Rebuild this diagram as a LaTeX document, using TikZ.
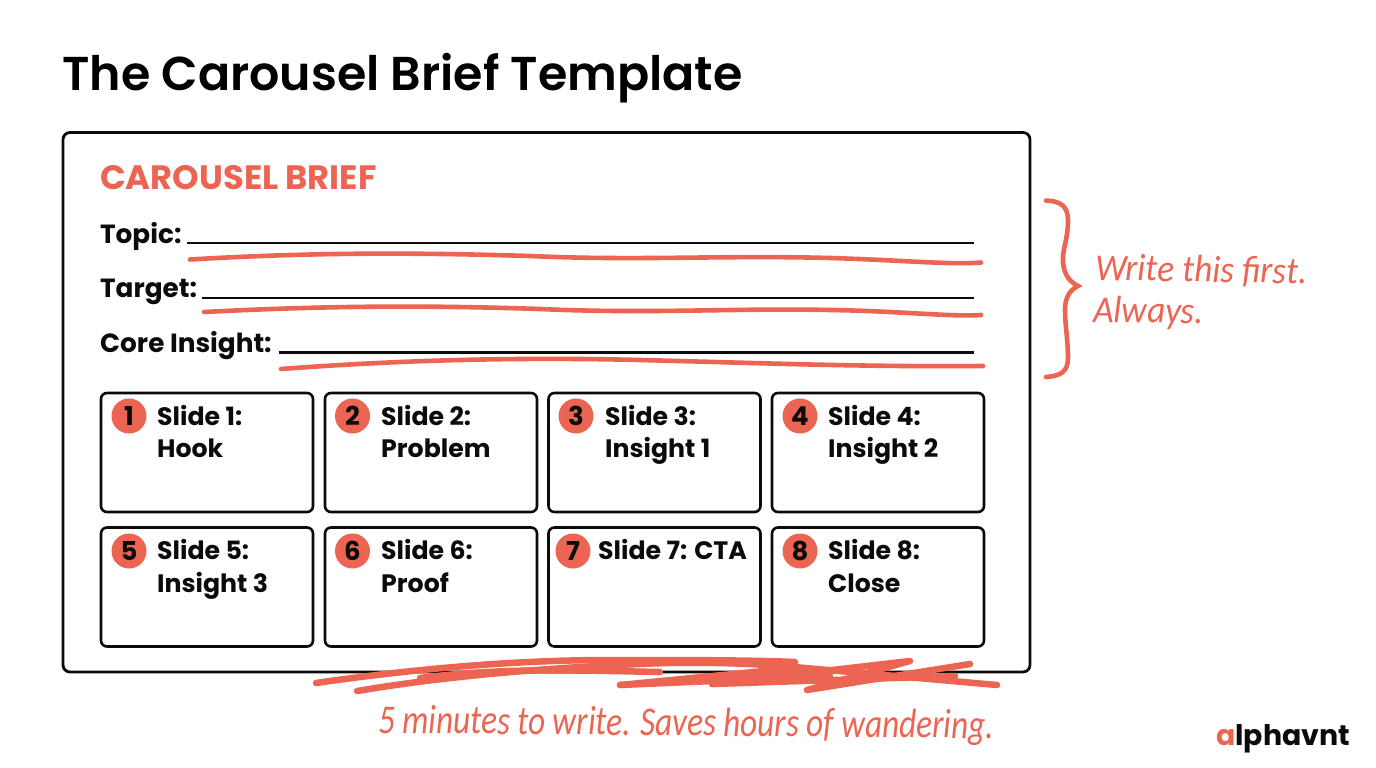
\documentclass[tikz,border=0pt]{standalone}
\usepackage{fontspec}
\setmainfont{Poppins}
\newfontfamily\popbold{Poppins Bold}
\newfontfamily\popsemi{Poppins SemiBold}
\newfontfamily\handa[FakeStretch=0.93]{Carlito}
\newfontfamily\handb[FakeStretch=0.81]{Carlito}
\definecolor{coral}{HTML}{EC6552}
\definecolor{inkc}{HTML}{0B0B0B}
\tikzset{
 panel/.style={draw=inkc,line width=2.8pt,rounded corners=7pt,fill=white},
 cell/.style={draw=inkc,line width=2.6pt,rounded corners=6pt,fill=white},
 badge/.style={circle,fill=coral,minimum size=35pt,inner sep=0pt,text=inkc,font=\popbold\fontsize{26}{26}\selectfont},
 label/.style={anchor=base west,inner sep=0pt,text=inkc,font=\popbold\fontsize{25.2}{25.2}\selectfont},
 fieldlabel/.style={anchor=base west,inner sep=0pt,text=inkc,font=\popbold\fontsize{26.3}{26.3}\selectfont},
 fieldline/.style={draw=inkc,line width=2.6pt},
 redline/.style={draw=coral,line width=4.6pt,line cap=round},
 scribble/.style={draw=coral,line width=6.5pt,line cap=round,line join=round},
 handtxt/.style={anchor=base west,inner sep=0pt,text=coral,font=\handa\itshape\fontsize{38}{38}\selectfont},
}
\begin{document}
\begin{tikzpicture}[x=1pt,y=-1pt]
\useasboundingbox (0,0) rectangle (1376,768);
\fill[white] (0,0) rectangle (1376,768);
\node[anchor=base west,inner sep=0pt,text=black,font=\popsemi\fontsize{47.5}{47.5}\selectfont] (title) at (62,91) {The Carousel Brief Template};
\draw[panel] (63,132.5) rectangle (1030,672);
\node[anchor=base west,inner sep=0pt,text=coral,font=\popbold\fontsize{33.8}{33.8}\selectfont] (brief) at (100,189) {CAROUSEL BRIEF};
\node[fieldlabel] (topic) at (100,243) {Topic:};
\node[fieldlabel] (target) at (100,297) {Target:};
\node[fieldlabel] (core) at (100,352) {Core Insight:};
\coordinate (t1) at (187,243); \coordinate (t2) at (974,243);
\coordinate (g1) at (202,298); \coordinate (g2) at (974,298);
\coordinate (c1) at (279,352.5); \coordinate (c2) at (974,352.5);
\draw[fieldline] (t1) -- (t2);
\draw[fieldline] (g1) -- (g2);
\draw[fieldline] (c1) -- (c2);
\draw[redline] (190,259.5) .. controls (300,253) and (400,252) .. (530,256) .. controls (640,261) and (720,255) .. (830,258) .. controls (900,260) and (950,265) .. (981,262.5);
\draw[redline] (204,312) .. controls (320,306) and (420,305) .. (540,309) .. controls (650,314) and (730,308) .. (830,310) .. controls (900,311) and (950,317) .. (981,315);
\draw[redline] (281,369) .. controls (400,360) and (520,357) .. (640,360) .. controls (760,363) and (860,367) .. (983,366);
% slide cells
\foreach \n/\x/\y in {a/101/393,b/325/393,c/548.5/393,d/772/393,e/101/527.5,f/325/527.5,g/548.5/527.5,h/772/527.5}{
  \draw[cell] (\x,\y) rectangle ++(212,119);
}
\node[badge] (n1) at (129,416) {1};
\node[badge] (n2) at (352.5,416) {2};
\node[badge] (n3) at (576,416) {3};
\node[badge] (n4) at (800,416) {4};
\node[badge] (n5) at (129,551) {5};
\node[badge] (n6) at (352.5,551) {6};
\node[badge] (n7) at (573,551) {7};
\node[badge] (n8) at (800,551) {8};
\node[label] (s1a) at (157,425) {Slide 1:};
\node[label] (s1b) at (157,457.5) {Hook};
\node[label] (s2a) at (381,425) {Slide 2:};
\node[label] (s2b) at (381,457.5) {Problem};
\node[label] (s3a) at (605,425) {Slide 3:};
\node[label] (s3b) at (605,457.5) {Insight 1};
\node[label] (s4a) at (828,425) {Slide 4:};
\node[label] (s4b) at (828,457.5) {Insight 2};
\node[label] (s5a) at (157,559.5) {Slide 5:};
\node[label] (s5b) at (157,592) {Insight 3};
\node[label] (s6a) at (381,559.5) {Slide 6:};
\node[label] (s6b) at (381,592) {Proof};
\node[label] (s7a) at (598,559.5) {Slide 7: CTA};
\node[label] (s8a) at (828,559.5) {Slide 8:};
\node[label] (s8b) at (828,592) {Close};
% brace
\draw[draw=coral,line width=4.6pt,line cap=round,line join=miter]
 (1046,200.5) .. controls (1060,201) and (1068,206) .. (1068,220)
 .. controls (1068,240) and (1062,250) .. (1063,262)
 .. controls (1064,275) and (1070,282) .. (1078,286)
 .. controls (1070,290) and (1065,297) .. (1065,310)
 .. controls (1065,325) and (1068,340) .. (1068,358)
 .. controls (1068,372) and (1060,376) .. (1046,377);
\node[handtxt,rotate=-1] (w1) at (1095,280) {Write this first.};
\node[handtxt,rotate=-1] (w2) at (1093,322) {Always.};
% scribble
\draw[scribble] (316,683) .. controls (420,668) and (520,660) .. (610,660) .. controls (680,660) and (750,660) .. (795,662);
\draw[scribble] (357,691) .. controls (440,677) and (540,668) .. (640,664) .. controls (700,661) and (770,664) .. (800,668) -- (620,685) -- (795,668) -- (712,684) -- (910,661) -- (807,690) -- (970,664);
\draw[scribble] (420,678) .. controls (500,668) and (560,670) .. (660,672);
\draw[scribble] (760,664) -- (997,685);
\draw[scribble] (712,684) -- (955,676);
\draw[scribble] (620,685) -- (830,676);
\node[handtxt,font=\handb\itshape\fontsize{41}{41}\selectfont,rotate=-0.5] (note) at (378,733) {5 minutes to write. Saves hours of wandering.};
% logo
\node[anchor=base west,inner sep=0pt,font=\popbold\fontsize{28.4}{28.4}\selectfont] (logo) at (1216,745) {\textcolor{coral}{a}\textcolor{inkc}{lphavnt}};
\end{tikzpicture}
\end{document}
